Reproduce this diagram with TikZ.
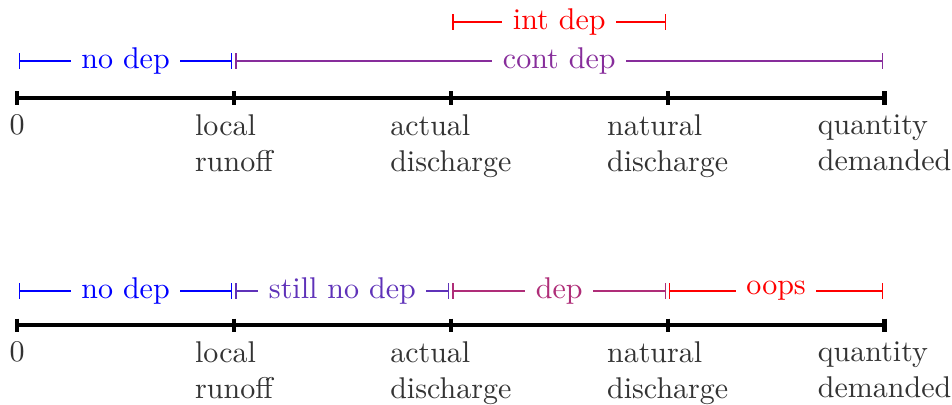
\documentclass[tikz,border=0pt]{standalone}
\usepackage{xcolor}
\definecolor{stillcol}{RGB}{95,50,185}
\definecolor{depcol}{RGB}{175,45,120}
\definecolor{contcol}{RGB}{135,45,155}
\newcommand{\pts}[2]
{
	\coordinate (#1a) at (0,#2);
	\coordinate (#1b) at (2.54,#2);
	\coordinate (#1c) at (5.08,#2);
	\coordinate (#1d) at (7.62,#2);
	\coordinate (#1e) at (10.16,#2);
}
\newcommand{\zhou}[2]
{
	\pts{#1}{#2}
	\draw[line width=1.4pt] (#1a) -- (#1e);
	\foreach \p in {a,b,c,d,e}
		\draw[line width=1.4pt] ([yshift=2.2pt]#1\p) -- ([yshift=-2.2pt]#1\p);
	\node[lab] (#1la) at (#1a) {0};
	\node[lab] (#1lb) at (#1b) {local\\runoff};
	\node[lab] (#1lc) at (#1c) {actual\\discharge};
	\node[lab] (#1ld) at (#1d) {natural\\discharge};
	\node[lab] (#1le) at (#1e) {quantity\\demanded};
}

\begin{document}
\begin{tikzpicture}[
	lab/.style={below, align=left, yshift=-2pt, text=black!80},
	rng/.style={|-|, shorten <=0.5pt, shorten >=0.5pt},
	tag/.style={fill=white, inner sep=3.5pt}]
	\useasboundingbox (-0.2,-3.585) rectangle (10.95,1.148);
	\zhou{t}{0}
	\pts{u}{0.433}
	\pts{v}{0.89}
	\draw[rng, blue] (ua) -- node[tag] (nodep) {no dep} (ub);
	\draw[rng, contcol] (ub) -- node[tag] (contdep) {cont dep} (ue);
	\draw[rng, red] (vc) -- node[tag] (intdep) {int dep} (vd);
	% second line
	\zhou{s}{-2.66}
	\pts{w}{-2.26}
	\draw[rng, blue] (wa) -- node[tag] (nodep2) {no dep} (wb);
	\draw[rng, stillcol] (wb) -- node[tag] (stillno) {still no dep} (wc);
	\draw[rng, depcol] (wc) -- node[tag] (dep) {dep} (wd);
	\draw[rng, red] (wd) -- node[tag] (oops) {oops} (we);
\end{tikzpicture}
\end{document}
